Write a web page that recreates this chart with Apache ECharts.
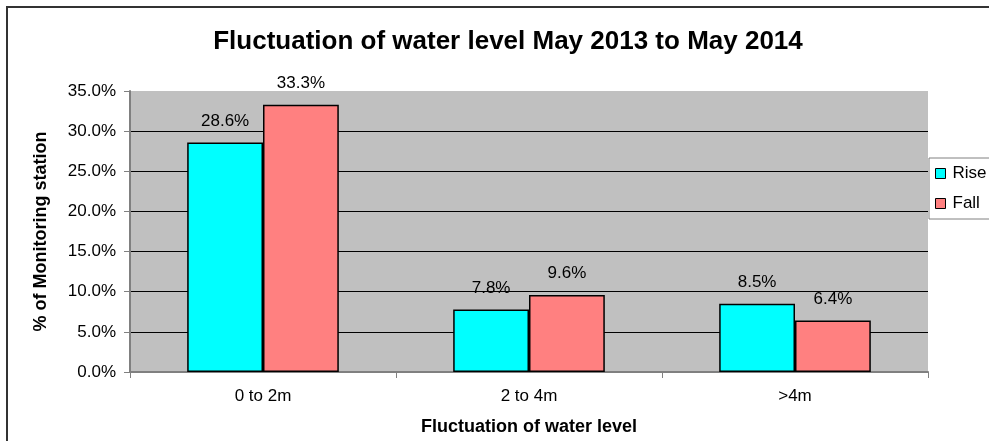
<!DOCTYPE html>
<html>
<head>
<meta charset="utf-8">
<script src="https://cdn.jsdelivr.net/npm/echarts@6/dist/echarts.min.js"></script>
<style>
    html, body { margin: 0; padding: 0; background: #fff; }
    #picture { width: 989px; height: 441px; }
</style>
</head>
<body>
<div id="picture"></div>
<script>
    // data
    var categories = ['0 to 2m', '2 to 4m', '>4m'];
    var riseData = [28.6, 7.8, 8.5];
    var fallData = [33.3, 9.6, 6.4];
    var yTicks = [0, 5, 10, 15, 20, 25, 30, 35];

    var myChart = echarts.init(document.getElementById('picture'));
    var font = 'Liberation Sans, Arial, sans-serif';

    var option = {
        backgroundColor: '#fff',
        animation: false,
        title: {
            text: 'Fluctuation of water level May 2013 to May 2014',
            left: 503,
            textAlign: 'center',
            top: 24,
            textStyle: {
                fontFamily: font,
                fontSize: 26,
                fontWeight: 'bold',
                color: '#000'
            }
        },
        graphic: [{
            type: 'rect',
            shape: { x: 7, y: 7, width: 1000, height: 460 },
            style: { fill: null, stroke: '#333', lineWidth: 2 },
            z: -1
        }],
        grid: {
            left: 130,
            right: 61,
            top: 91,
            bottom: 68,
            show: true,
            backgroundColor: '#C0C0C0',
            borderWidth: 0
        },
        legend: {
            data: [{ name: 'Rise' }, { name: 'Fall' }],
            orient: 'vertical',
            left: 929,
            top: 158,
            padding: [7, 20, 7, 6],
            icon: 'rect',
            itemWidth: 10,
            itemHeight: 10,
            itemGap: 13,
            itemStyle: { borderColor: '#000', borderWidth: 1 },
            backgroundColor: '#fff',
            borderColor: '#808080',
            borderWidth: 1,
            textStyle: { fontFamily: font, fontSize: 17, color: '#000', padding: [0, 0, 0, 2] }
        },
        xAxis: {
            type: 'category',
            data: categories,
            name: 'Fluctuation of water level',
            nameLocation: 'middle',
            nameGap: 46,
            nameTextStyle: { fontFamily: font, fontSize: 18, fontWeight: 'bold', color: '#000' },
            axisLine: { lineStyle: { color: '#808080', width: 2 } },
            axisTick: { show: true, length: 6, lineStyle: { color: '#808080' } },
            axisLabel: { fontFamily: font, fontSize: 17, color: '#000', margin: 16 }
        },
        yAxis: {
            type: 'value',
            min: yTicks[0],
            max: yTicks[yTicks.length - 1],
            interval: 5,
            name: '% of Monitoring station',
            nameLocation: 'middle',
            nameGap: 80,
            nameTextStyle: { fontFamily: font, fontSize: 18, fontWeight: 'bold', color: '#000' },
            axisLine: { show: true, lineStyle: { color: '#808080', width: 2 } },
            axisTick: { show: true, length: 6, lineStyle: { color: '#808080' } },
            axisLabel: {
                fontFamily: font,
                fontSize: 17,
                color: '#000',
                margin: 14,
                formatter: function (v) { return v.toFixed(1) + '%'; }
            },
            splitLine: { show: true, showMaxLine: false, lineStyle: { color: '#000', width: 1 } }
        },
        series: [{
            name: 'Rise',
            type: 'bar',
            data: riseData,
            barGap: '0%',
            barCategoryGap: '43%',
            itemStyle: { color: '#00FFFF', borderColor: '#000', borderWidth: 1.5 },
            label: {
                show: true,
                position: 'top',
                distance: 13,
                fontFamily: font,
                fontSize: 17,
                color: '#000',
                formatter: '{c}%'
            }
        }, {
            name: 'Fall',
            type: 'bar',
            data: fallData,
            itemStyle: { color: '#FF8080', borderColor: '#000', borderWidth: 1.5 },
            label: {
                show: true,
                position: 'top',
                distance: 13,
                fontFamily: font,
                fontSize: 17,
                color: '#000',
                formatter: '{c}%'
            }
        }]
    };
    myChart.setOption(option);
</script>
</body>
</html>
